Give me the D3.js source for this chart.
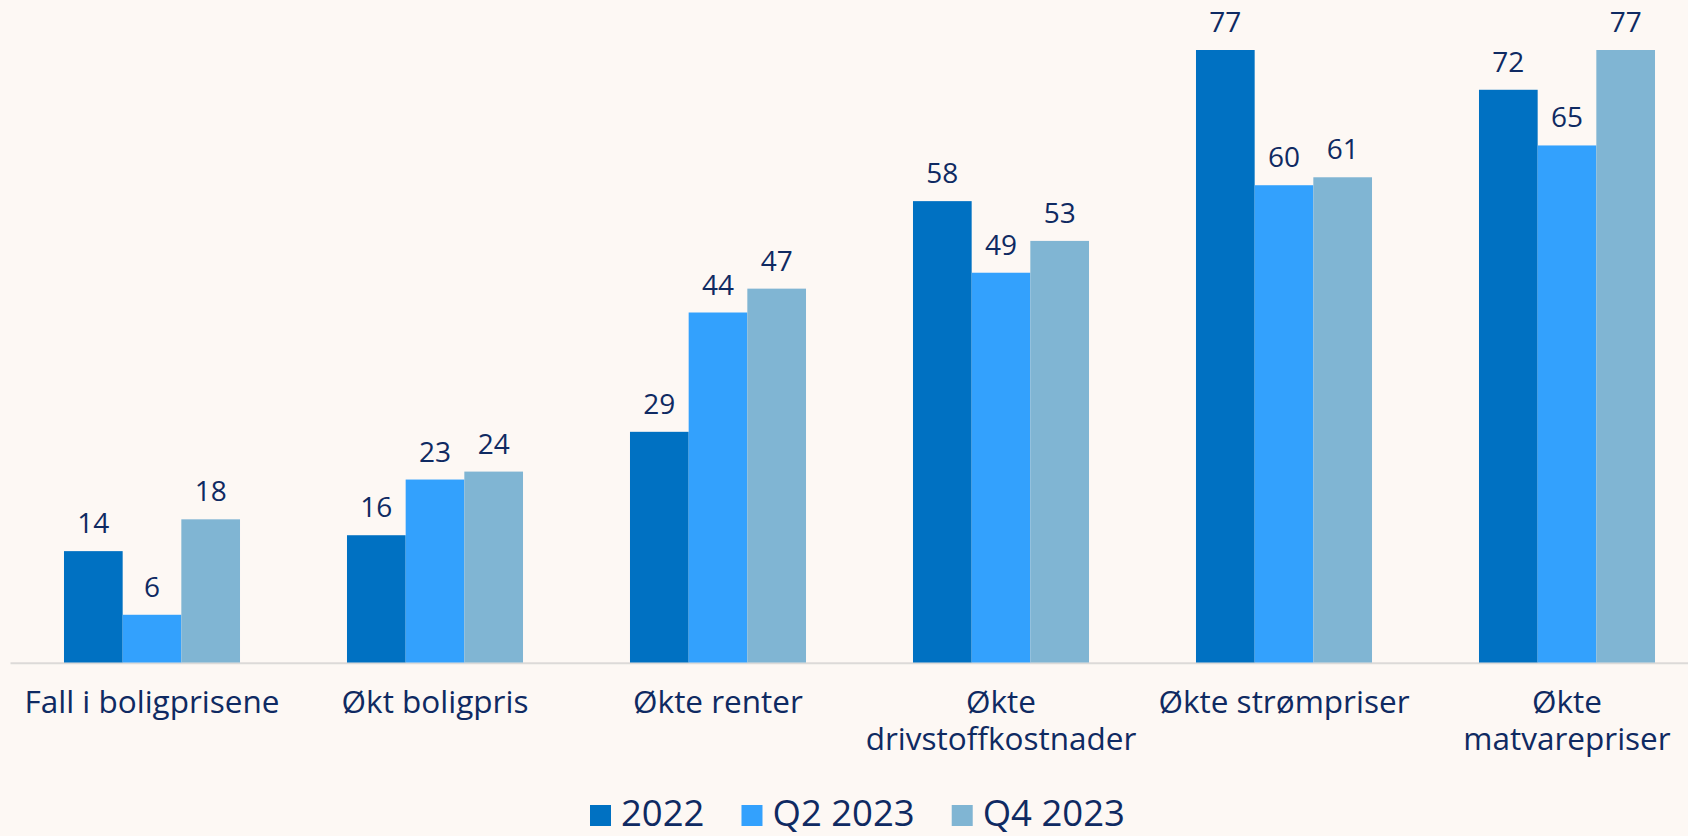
<!DOCTYPE html>
<html>
<head>
<meta charset="utf-8">
<script src="https://cdn.jsdelivr.net/npm/d3@7"></script>
<style>
  html, body { margin: 0; padding: 0; background: #fdf8f4; }
  svg { display: block; font-family: "Open Sans", sans-serif; }
</style>
</head>
<body>
<svg width="1688" height="836"></svg>
<script>
// categories and series
const categories = [
  "Fall i boligprisene",
  "Økt boligpris",
  "Økte renter",
  "Økte drivstoffkostnader",
  "Økte strømpriser",
  "Økte matvarepriser",
];
const seriesNames = ["2022", "Q2 2023", "Q4 2023"];
const values2022 = [14, 16, 29, 58, 77, 72];
const valuesQ2 = [6, 23, 44, 49, 60, 65];
const valuesQ4 = [18, 24, 47, 53, 61, 77];
const seriesValues = [values2022, valuesQ2, valuesQ4];

const colors = ["#0071c2", "#33a1fd", "#80b5d3"];
const textColor = "#0f2a62";

const svg = d3.select("svg");
const width = +svg.attr("width");

// table built from the arrays
const data = categories.map((c, i) => ({
  category: c,
  values: seriesNames.map((s, j) => ({ key: s, value: seriesValues[j][i] })),
}));

// outer band scale for categories, inner for the three series
const x0 = d3
  .scaleBand()
  .domain(categories)
  .range([10.5, 1708.5])
  .paddingInner(0.378)
  .paddingOuter(0.189);
const x1 = d3
  .scaleBand()
  .domain(seriesNames)
  .range([0, x0.bandwidth()]);
const color = d3.scaleOrdinal().domain(seriesNames).range(colors);
const y = d3.scaleLinear().domain([0, 77]).range([662.5, 50]);

// baseline
svg
  .append("line")
  .attr("x1", 10.5)
  .attr("x2", width)
  .attr("y1", 663.3)
  .attr("y2", 663.3)
  .attr("stroke", "#dcdad8")
  .attr("stroke-width", 2);

// groups of bars
const groups = svg
  .append("g")
  .selectAll("g")
  .data(data)
  .enter()
  .append("g")
  .attr("transform", (d) => `translate(${x0(d.category)},0)`);

groups
  .selectAll("rect")
  .data((d) => d.values)
  .enter()
  .append("rect")
  .attr("x", (d) => x1(d.key))
  .attr("y", (d) => y(d.value))
  .attr("width", x1.bandwidth())
  .attr("height", (d) => y(0) - y(d.value))
  .attr("fill", (d) => color(d.key));

// value labels above bars
groups
  .selectAll("text.value")
  .data((d) => d.values)
  .enter()
  .append("text")
  .attr("class", "value")
  .attr("x", (d) => x1(d.key) + x1.bandwidth() / 2)
  .attr("y", (d) => y(d.value) - 18)
  .attr("text-anchor", "middle")
  .attr("fill", textColor)
  .attr("font-size", "28px")
  .text((d) => d.value);

// category labels, wrapped when wider than the band
const maxLabel = 270;
const labels = svg
  .append("g")
  .selectAll("text")
  .data(categories)
  .enter()
  .append("text")
  .attr("x", (d) => x0(d) + x0.bandwidth() / 2)
  .attr("y", 713)
  .attr("text-anchor", "middle")
  .attr("fill", textColor)
  .attr("font-size", "31.5px");

labels.each(function (d) {
  const text = d3.select(this);
  const words = d.split(" ");
  let line = [];
  let tspan = text.append("tspan").attr("x", text.attr("x")).attr("dy", 0);
  words.forEach((w) => {
    line.push(w);
    tspan.text(line.join(" "));
    if (tspan.node().getComputedTextLength() > maxLabel && line.length > 1) {
      line.pop();
      tspan.text(line.join(" "));
      line = [w];
      tspan = text
        .append("tspan")
        .attr("x", text.attr("x"))
        .attr("dy", 37)
        .text(w);
    }
  });
});

// legend
const legend = svg.append("g").attr("transform", "translate(590,0)");
let lx = 0;
seriesNames.forEach((s, i) => {
  legend
    .append("rect")
    .attr("x", lx)
    .attr("y", 805)
    .attr("width", 21)
    .attr("height", 21)
    .attr("fill", colors[i]);
  const t = legend
    .append("text")
    .attr("x", lx + 31)
    .attr("y", 826)
    .attr("fill", textColor)
    .attr("font-size", "36.5px")
    .text(s);
  lx += 31 + t.node().getComputedTextLength() + 37;
});
</script>
</body>
</html>
